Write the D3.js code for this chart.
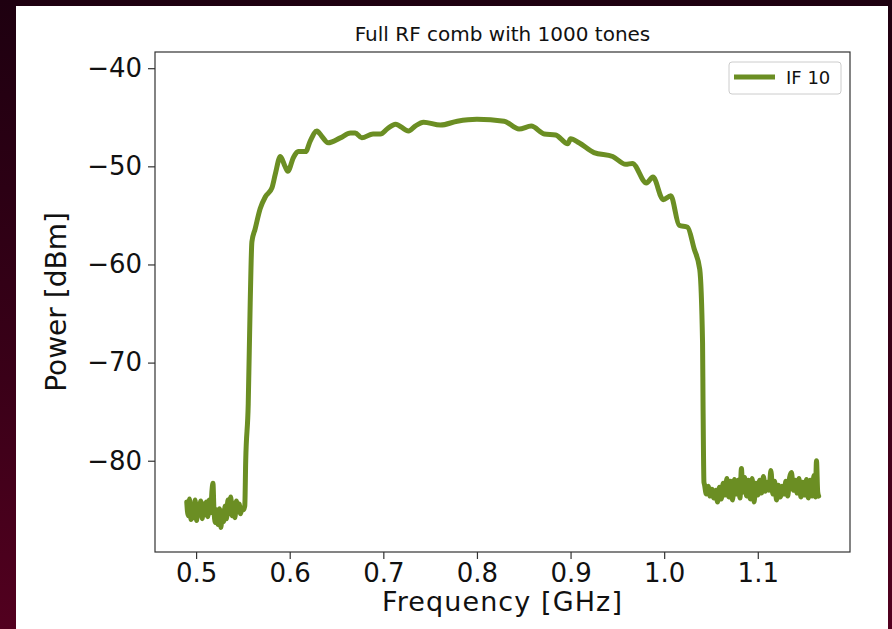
<!DOCTYPE html>
<html>
<head>
<meta charset="utf-8">
<script src="https://cdn.jsdelivr.net/npm/d3@7"></script>
<style>
  html, body { margin: 0; padding: 0; }
  body { width: 892px; height: 629px; overflow: hidden;
         background: linear-gradient(to bottom, #1e0010 0%, #3a0018 60%, #52001f 100%); }
  #chart { position: absolute; left: 16px; top: 6px; }
  text { font-family: "DejaVu Sans", sans-serif; fill: #111; }
</style>
</head>
<body>
<div id="chart"></div>
<script>
// Data
const freq = [
  0.4900, 0.4915, 0.4930, 0.4945, 0.4960, 0.4975, 0.4990, 0.5005, 0.5020, 0.5035,
  0.5050, 0.5065, 0.5080, 0.5095, 0.5110, 0.5125, 0.5140, 0.5155, 0.5170, 0.5180,
  0.5190, 0.5205, 0.5220, 0.5235, 0.5250, 0.5265, 0.5280, 0.5295, 0.5310, 0.5325,
  0.5340, 0.5355, 0.5370, 0.5385, 0.5400, 0.5415, 0.5430, 0.5445, 0.5460, 0.5475,
  0.5490, 0.5505, 0.5520,
  0.5530, 0.5557, 0.5578, 0.5596, 0.5630, 0.5685, 0.5740, 0.5810, 0.5846, 0.5900,
  0.5950, 0.5980, 0.6040, 0.6090, 0.6170, 0.6220, 0.6290, 0.6340, 0.6410, 0.6540,
  0.6650, 0.6700, 0.6770, 0.6890, 0.6970, 0.7040, 0.7130, 0.7270, 0.7340, 0.7430,
  0.7610, 0.7790, 0.8000, 0.8290, 0.8450, 0.8580, 0.8720, 0.8840, 0.8970, 0.9000,
  0.9090, 0.9250, 0.9450, 0.9590, 0.9660, 0.9810, 0.9880, 0.9990, 1.0070, 1.0160,
  1.0250, 1.0320, 1.0380, 1.0410, 1.0415, 1.0425,
  1.0430, 1.0450, 1.0470, 1.0490, 1.0510, 1.0530, 1.0550, 1.0570, 1.0590, 1.0610,
  1.0630, 1.0650, 1.0670, 1.0690, 1.0710, 1.0730, 1.0750, 1.0770, 1.0790, 1.0810,
  1.0825, 1.0840, 1.0860, 1.0880, 1.0900, 1.0920, 1.0940, 1.0960, 1.0980, 1.1000,
  1.1020, 1.1040, 1.1060, 1.1080, 1.1100, 1.1120, 1.1140, 1.1160, 1.1180, 1.1200,
  1.1220, 1.1240, 1.1260, 1.1280, 1.1300, 1.1320, 1.1340, 1.1360, 1.1380, 1.1400,
  1.1420, 1.1440, 1.1460, 1.1480, 1.1500, 1.1520, 1.1540, 1.1560, 1.1580, 1.1600,
  1.1615, 1.1627, 1.1640, 1.1650
];
const power = [
  -84.2, -85.6, -83.9, -86.0, -84.5, -85.8, -84.0, -86.1, -84.6, -85.2,
  -84.1, -85.9, -84.4, -85.5, -84.2, -85.7, -84.0, -85.3, -83.0, -82.3,
  -84.8, -86.3, -85.0, -86.5, -84.9, -86.8, -85.1, -86.2, -84.6, -85.9,
  -84.0, -85.4, -83.7, -85.6, -84.3, -85.8, -84.1, -85.2, -84.4, -85.4,
  -84.8, -85.0, -84.6,
  -80.0, -74.2, -63.9, -57.7, -56.4, -54.3, -53.1, -52.2, -50.8, -49.0,
  -50.0, -50.5, -49.1, -48.5, -48.5, -47.4, -46.4, -46.9, -47.6, -47.1,
  -46.6, -46.6, -47.1, -46.7, -46.7, -46.2, -45.7, -46.4, -45.9, -45.5,
  -45.8, -45.4, -45.2, -45.4, -46.2, -45.9, -46.7, -46.8, -47.7, -47.2,
  -47.6, -48.6, -49.0, -49.8, -49.7, -51.7, -51.1, -53.4, -53.0, -56.0,
  -56.2, -58.4, -60.5, -68.0, -74.0, -82.2,
  -82.4, -83.4, -82.6, -83.6, -82.9, -83.8, -83.0, -84.2, -82.7, -83.9,
  -82.3, -83.5, -81.8, -83.7, -82.1, -84.0, -81.9, -83.4, -82.0, -83.8,
  -80.8, -83.2, -81.7, -83.6, -82.0, -83.9, -81.8, -84.2, -82.3, -83.5,
  -82.0, -83.3, -81.6, -83.1, -82.2, -83.0, -81.0, -83.4, -82.1, -84.0,
  -82.5, -83.7, -82.6, -83.4, -82.1, -83.6, -81.7, -81.2, -83.0, -82.0,
  -83.3, -81.8, -83.7, -82.2, -83.5, -81.9, -83.8, -82.0, -83.6, -81.5,
  -83.7, -80.0, -83.2, -83.6
];
const xTicks = [0.5, 0.6, 0.7, 0.8, 0.9, 1.0, 1.1];
const yTicks = [-80, -70, -60, -50, -40];

// Figure
const W = 872, H = 623;
const margin = { left: 139, top: 46, right: 38, bottom: 77 };
const svg = d3.select("#chart").append("svg")
  .attr("width", W).attr("height", H);
svg.append("rect").attr("width", W).attr("height", H).attr("fill", "#fff");

const iw = W - margin.left - margin.right;
const ih = H - margin.top - margin.bottom;
const g = svg.append("g").attr("transform", `translate(${margin.left},${margin.top})`);

const x = d3.scaleLinear().domain([0.4561, 1.1985]).range([0, iw]);
const y = d3.scaleLinear().domain([-89.3, -38.35]).range([ih, 0]);

const fmtY = d => (d < 0 ? "\u2212" + Math.abs(d) : d);

// axes
const xAxis = g.append("g").attr("transform", `translate(0,${ih})`)
  .call(d3.axisBottom(x).tickValues(xTicks).tickFormat(d3.format(".1f")).tickSize(7).tickPadding(5));
const yAxis = g.append("g")
  .call(d3.axisLeft(y).tickValues(yTicks).tickFormat(fmtY).tickSize(7).tickPadding(6));
[xAxis, yAxis].forEach(a => {
  a.select(".domain").remove();
  a.selectAll("line").attr("stroke", "#333").attr("stroke-width", 1.2);
  a.selectAll("text").attr("font-size", 26).attr("font-family", "DejaVu Sans").attr("fill", "#111");
});

// line
const line = d3.line().x((d, i) => x(freq[i])).y(d => y(d)).curve(d3.curveMonotoneX);
g.append("path")
  .datum(power)
  .attr("fill", "none")
  .attr("stroke", "#6b8e23")
  .attr("stroke-width", 5)
  .attr("stroke-linejoin", "round")
  .attr("stroke-linecap", "round")
  .attr("d", line);

// frame
g.append("rect").attr("width", iw).attr("height", ih)
  .attr("fill", "none").attr("stroke", "#333").attr("stroke-width", 1.2);

// title and labels
g.append("text").attr("x", iw / 2).attr("y", -11)
  .attr("text-anchor", "middle").attr("font-size", 20)
  .text("Full RF comb with 1000 tones");
g.append("text").attr("x", iw / 2).attr("y", ih + 59)
  .attr("text-anchor", "middle").attr("font-size", 27)
  .attr("letter-spacing", 1.1)
  .text("Frequency [GHz]");
g.append("text")
  .attr("transform", `translate(${-89},${ih / 2}) rotate(-90)`)
  .attr("text-anchor", "middle").attr("font-size", 28)
  .text("Power [dBm]");

// legend
const lg = g.append("g").attr("transform", `translate(${iw - 121},${10})`);
lg.append("rect").attr("width", 112).attr("height", 32).attr("rx", 3)
  .attr("fill", "#fff").attr("stroke", "#ccc");
lg.append("line").attr("x1", 5).attr("x2", 46).attr("y1", 15).attr("y2", 15)
  .attr("stroke", "#6b8e23").attr("stroke-width", 5);
lg.append("text").attr("x", 57).attr("y", 22).attr("font-size", 18).text("IF 10");
</script>
</body>
</html>
